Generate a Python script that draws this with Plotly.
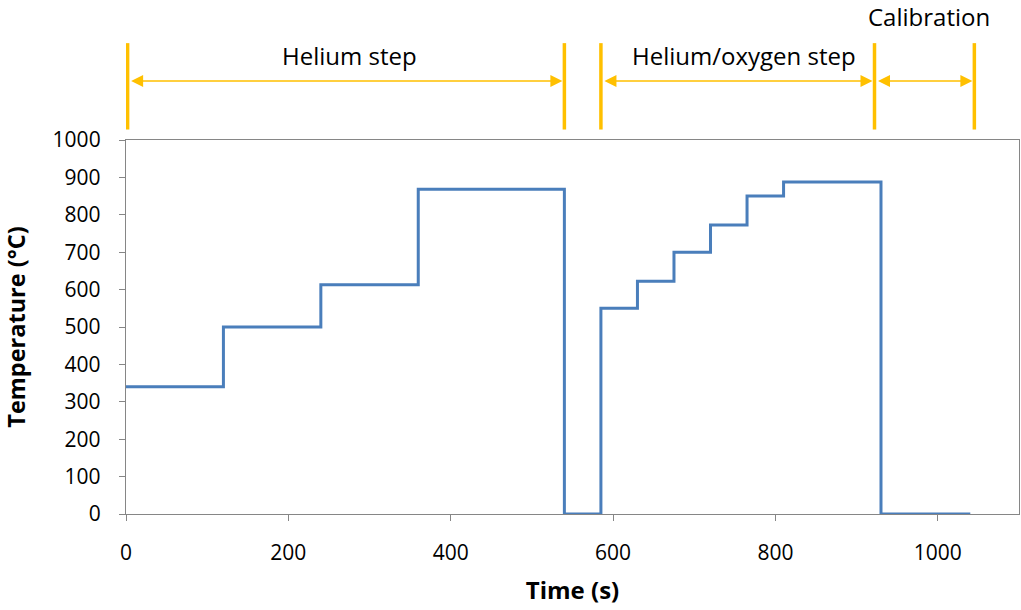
import plotly.graph_objects as go

# Temperature programme: each segment is (start time, end time, set temperature)
seg_start = [0, 120, 240, 360, 540, 585, 630, 675, 720, 765, 810, 930]
seg_end = [120, 240, 360, 540, 585, 630, 675, 720, 765, 810, 930, 1040]
seg_temp = [340, 500, 613, 868, 0, 550, 622, 700, 773, 850, 888, 0]

# Phase boundaries (s) and labels shown above the plot
phase_edges = [2, 540, 585, 922, 1045]
phase_names = ["Helium step", "Helium/oxygen step", "Calibration"]
phase_spans = [(2, 540), (585, 922), (922, 1045)]
phase_label_x = [275, 761, 989]
phase_label_y = [1.227, 1.227, 1.33]

# Build the stepped trace from the segments
xs, ys = [], []
for a, b, t in zip(seg_start, seg_end, seg_temp):
    xs += [a, b]
    ys += [t, t]

font_family = "Open Sans, Noto Sans, sans-serif"
yellow = "#FFC000"

fig = go.Figure()
fig.add_trace(go.Scatter(
    x=xs, y=ys, mode="lines",
    line=dict(color="#4A7EBB", width=3),
    showlegend=False, hoverinfo="skip",
))

shapes = []
for xe in phase_edges:
    shapes.append(dict(
        type="line", xref="x", yref="y domain",
        x0=xe, x1=xe, y0=1.028, y1=1.259,
        line=dict(color=yellow, width=3.5),
    ))

annotations = []
for (a, b) in phase_spans:
    annotations.append(dict(
        x=b, y=1.158, xref="x", yref="y domain",
        ax=a, ay=1.158, axref="x", ayref="y domain",
        text="", showarrow=True, arrowside="end+start",
        arrowhead=2, startarrowhead=2, arrowsize=1.6, startarrowsize=1.6,
        arrowwidth=1.5, arrowcolor=yellow, standoff=2, startstandoff=2,
    ))
for name, lx, ly in zip(phase_names, phase_label_x, phase_label_y):
    annotations.append(dict(
        x=lx, y=ly, xref="x", yref="y domain", text=name, showarrow=False,
        font=dict(family=font_family, size=24, color="#000000"),
        xanchor="center", yanchor="middle",
    ))

axis_common = dict(
    showline=True, linecolor="#868686", linewidth=1.3, mirror=True,
    ticks="outside", tickcolor="#868686", ticklen=6, tickwidth=1,
    showgrid=False, zeroline=False,
    tickfont=dict(family=font_family, size=21, color="#000000"),
)

fig.update_layout(
    width=1021, height=610,
    margin=dict(l=126, r=2, t=140, b=96),
    paper_bgcolor="white", plot_bgcolor="white",
    shapes=shapes, annotations=annotations,
    xaxis=dict(
        range=[0, 1100], tickmode="array", tickvals=[0, 200, 400, 600, 800, 1000],
        ticklabelstandoff=14,
        title=dict(text="<b>Time (s)</b>", standoff=16,
                   font=dict(family=font_family, size=24, color="#000000")),
        **axis_common,
    ),
    yaxis=dict(
        range=[0, 1000], tickmode="array", tickvals=list(range(0, 1001, 100)),
        ticklabelstandoff=14,
        title=dict(text="<b>Temperature (°C)</b>", standoff=20,
                   font=dict(family=font_family, size=23.5, color="#000000")),
        **axis_common,
    ),
)

fig.write_html("out.html")
